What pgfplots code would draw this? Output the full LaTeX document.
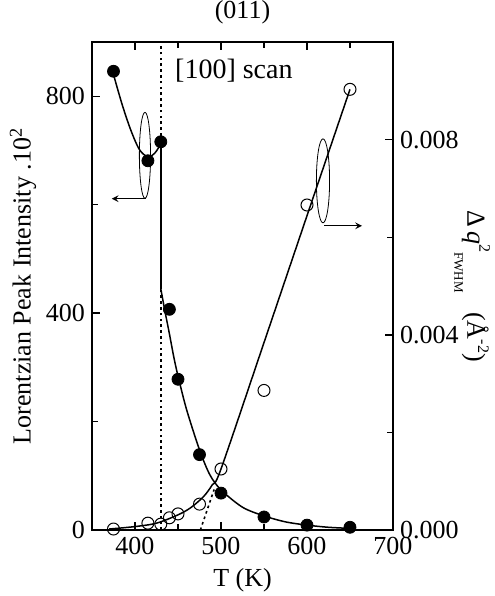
\documentclass[border=0pt]{standalone}
\usepackage{fontspec}
\setmainfont{Liberation Serif}
\usepackage{pgfplots}
\pgfplotsset{compat=1.18}

\begin{document}
\begin{tikzpicture}
% fixed page: the axis box is 150.5pt x 244pt with its lower left corner at (0,0)
\path[use as bounding box] (-46pt,-33pt) rectangle (201pt,265pt);
\pgfplotsset{
    every axis/.append style={
        scale only axis,
        width=150.5pt, height=244pt,
        xmin=350, xmax=700,
        clip=false,
        axis line style={line width=0.8pt},
        major tick length=4pt,
        minor tick length=3pt,
        every tick/.style={black, line width=0.7pt},
        tick label style={font=\fontsize{13}{15}\selectfont},
        label style={font=\fontsize{13}{15}\selectfont},
        /pgf/number format/assume math mode=true,
    },
}
% intensity, left axis
\begin{axis}[
    ymin=0, ymax=900,
    ytick={0,400,800}, minor ytick={200,600},
    xtick={400,500,600,700}, minor xtick={450,550,650},
    xtick pos=both, xticklabel pos=lower,
    ytick pos=left,
    xlabel={T (K)},
    ylabel={Lorentzian Peak Intensity .10\textsuperscript{2}},
    ylabel style={yshift=-2pt},
    title={(011)},
    title style={font=\fontsize{13}{15}\selectfont, anchor=center, yshift=9pt},
]
\addplot[line width=0.8pt, dash pattern=on 1.3pt off 1.6pt] coordinates {(430,0) (430,900)};
% fit curve, part above the jump
\addplot[smooth, line width=0.75pt] coordinates {
    (375,840) (385,785) (395,738) (405,702) (415,688) (423,695) (430,712)
};
\addplot[line width=0.75pt] coordinates {(430,712) (430,445)};
\addplot[smooth, line width=0.75pt] coordinates {
    (430,445) (435,402) (440,362) (445,320) (450,284) (460,222) (475,148)
    (487,102) (500,74) (525,42) (550,26) (575,15) (600,9) (625,5) (650,3)
};
\addplot[only marks, mark=*, mark size=3pt, mark options={fill=black}] coordinates {
    (375,846) (415,681) (430,716) (440,407) (450,278)
    (475,139) (500,68) (550,24) (600,9) (650,5)
};
\node[font=\fontsize{14}{16}\selectfont] at (axis cs:515,848) {[100] scan};
\draw[line width=0.4pt] (axis cs:411.6,691) ellipse [x radius=2.8pt, y radius=21.5pt];
\draw[line width=0.5pt, -stealth] (axis cs:412.8,611) -- (axis cs:373,611);
\draw[line width=0.4pt] (axis cs:618.6,644) ellipse [x radius=3.3pt, y radius=21pt];
\draw[line width=0.5pt, -stealth] (axis cs:619.8,561) -- (axis cs:664,561);
\end{axis}
% FWHM, right axis
\begin{axis}[
    axis x line=none,
    axis y line*=right,
    ymin=0, ymax=0.010,
    ytick={0,0.004,0.008}, minor ytick={0.002,0.006},
    scaled y ticks=false,
    yticklabel style={/pgf/number format/fixed, /pgf/number format/fixed zerofill,
        /pgf/number format/precision=3},
]
\addplot[smooth, line width=0.75pt] coordinates {
    (370,0.00002) (400,0.00007) (425,0.00014) (450,0.00031) (465,0.00046)
    (480,0.00069) (490,0.00093) (500,0.00125) (550,0.00384) (600,0.00644) (650,0.00903)
};
\addplot[line width=0.8pt, dash pattern=on 1.3pt off 1.6pt] coordinates {(476,0) (492,0.00083)};
\addplot[only marks, mark=o, mark size=3pt, line width=0.5pt] coordinates {
    (375,0.00002) (415,0.00014) (430,0.00012) (440,0.00025) (450,0.00033)
    (475,0.00053) (500,0.00125) (550,0.00286) (600,0.00666) (650,0.00903)
};
\node[font=\fontsize{13}{15}\selectfont, xshift=39.5pt, rotate=-90] at (rel axis cs:1,0.5)
    {Δ\,\textit{q}\raisebox{1.0ex}{\fontsize{8}{8}\selectfont 2}\raisebox{-1.1ex}{\fontsize{6.5}{7}\selectfont FWHM}\ \ \ (Å\raisebox{0.9ex}{\fontsize{8}{8}\selectfont -2})};
\end{axis}
\end{tikzpicture}
\end{document}
